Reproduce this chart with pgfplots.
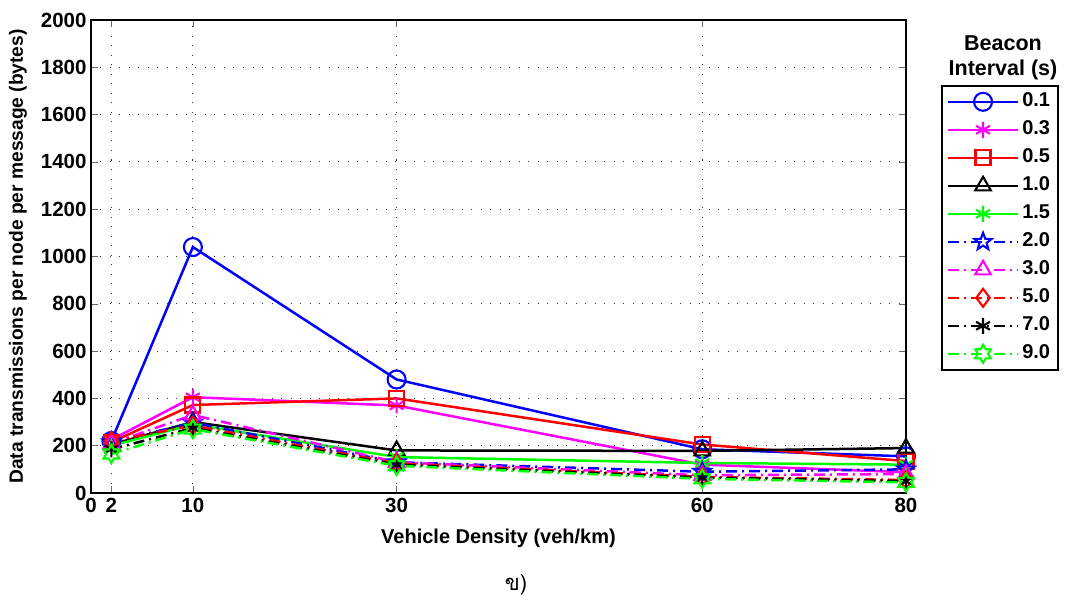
\documentclass[border=0pt]{standalone}
\usepackage{pgfplots}
\pgfplotsset{compat=1.18}
\usepackage{fontspec}
\setmainfont{Liberation Sans}
\newfontfamily\thaifont[Script=Thai]{Loma}
\usetikzlibrary{plotmarks}
\definecolor{mblue}{RGB}{0,0,255}
\definecolor{mmag}{RGB}{255,0,255}
\definecolor{mred}{RGB}{255,0,0}
\definecolor{mgreen}{RGB}{0,255,0}
\pgfdeclareplotmark{pentagram}{%
 \pgfpathmoveto{\pgfpointpolar{90}{\pgfplotmarksize}}%
 \pgfpathlineto{\pgfpointpolar{126}{0.42\pgfplotmarksize}}%
 \pgfpathlineto{\pgfpointpolar{162}{\pgfplotmarksize}}%
 \pgfpathlineto{\pgfpointpolar{198}{0.42\pgfplotmarksize}}%
 \pgfpathlineto{\pgfpointpolar{234}{\pgfplotmarksize}}%
 \pgfpathlineto{\pgfpointpolar{270}{0.42\pgfplotmarksize}}%
 \pgfpathlineto{\pgfpointpolar{306}{\pgfplotmarksize}}%
 \pgfpathlineto{\pgfpointpolar{342}{0.42\pgfplotmarksize}}%
 \pgfpathlineto{\pgfpointpolar{18}{\pgfplotmarksize}}%
 \pgfpathlineto{\pgfpointpolar{54}{0.42\pgfplotmarksize}}%
 \pgfpathclose\pgfusepathqstroke}
\pgfdeclareplotmark{hexagram}{%
 \pgfpathmoveto{\pgfpointpolar{90}{\pgfplotmarksize}}%
 \pgfpathlineto{\pgfpointpolar{120}{0.58\pgfplotmarksize}}%
 \pgfpathlineto{\pgfpointpolar{150}{\pgfplotmarksize}}%
 \pgfpathlineto{\pgfpointpolar{180}{0.58\pgfplotmarksize}}%
 \pgfpathlineto{\pgfpointpolar{210}{\pgfplotmarksize}}%
 \pgfpathlineto{\pgfpointpolar{240}{0.58\pgfplotmarksize}}%
 \pgfpathlineto{\pgfpointpolar{270}{\pgfplotmarksize}}%
 \pgfpathlineto{\pgfpointpolar{300}{0.58\pgfplotmarksize}}%
 \pgfpathlineto{\pgfpointpolar{330}{\pgfplotmarksize}}%
 \pgfpathlineto{\pgfpointpolar{0}{0.58\pgfplotmarksize}}%
 \pgfpathlineto{\pgfpointpolar{30}{\pgfplotmarksize}}%
 \pgfpathlineto{\pgfpointpolar{60}{0.58\pgfplotmarksize}}%
 \pgfpathclose\pgfusepathqstroke}
\begin{document}
\begin{tikzpicture}
\path[use as bounding box] (-91pt,-113pt) rectangle (978pt,493pt);
\begin{axis}[
  at={(0,0)}, anchor=south west,
  scale only axis, width=815pt, height=473pt,
  xmin=0, xmax=80, ymin=0, ymax=2000,
  xtick={0,2,10,30,60,80},
  ytick={0,200,...,2000},
  grid=major,
  grid style={black!80, line width=0.9pt, dash pattern=on 1pt off 8.5pt},
  tick align=inside,
  major tick length=7pt,
  tick style={black!60, line width=0.6pt},
  axis line style={black, line width=1.3pt},
  /pgf/number format/assume math mode=true,
  /pgf/number format/1000 sep={},
  ticklabel style={font=\fontsize{20.5}{22}\selectfont\bfseries},
  yticklabel style={xshift=-1pt},
  xticklabel style={yshift=-2pt},
  xlabel={Vehicle Density (veh/km)},
  ylabel={Data transmissions per node per message (bytes)},
  every axis x label/.style={at={(axis description cs:0.5,-0.0953)}, anchor=center, font=\fontsize{20}{22}\selectfont\bfseries},
  every axis y label/.style={at={(axis description cs:-0.0896,0.5)}, rotate=90, anchor=center, font=\fontsize{19.2}{22}\selectfont\bfseries},
  every axis plot/.append style={line width=2.5pt, mark size=8pt, mark options={solid, line width=2.1pt}},
  legend style={at={(axis description cs:1,1)}, anchor=north west, xshift=35pt, yshift=-65pt,
     draw=black, line width=1.6pt, font=\fontsize{20}{22}\selectfont\bfseries,
     row sep=0pt, inner xsep=5pt, inner ysep=2pt,
     nodes={text height=15pt, text depth=6pt, inner ysep=3.5pt, inner xsep=3pt}},
  legend cell align=left,
  legend image code/.code={\draw[#1, mark=none] (6pt,0pt) -- (76pt,0pt);
     \draw[#1] plot coordinates {(41pt,0pt)};},
  dashdot/.style={dash pattern=on 11pt off 5pt on 2pt off 5pt},
]
\addplot[mblue, mark=o, mark size=9pt] coordinates {(2,220)(10,1040)(30,480)(60,185)(80,155)};
\addlegendentry{0.1}
\addplot[mmag, mark=asterisk] coordinates {(2,225)(10,405)(30,370)(60,120)(80,88)};
\addlegendentry{0.3}
\addplot[mred, mark=square, mark size=7.5pt] coordinates {(2,215)(10,372)(30,400)(60,205)(80,135)};
\addlegendentry{0.5}
\addplot[black, mark=triangle, mark size=9pt] coordinates {(2,205)(10,300)(30,180)(60,178)(80,190)};
\addlegendentry{1.0}
\addplot[mgreen, mark=asterisk] coordinates {(2,200)(10,290)(30,152)(60,127)(80,120)};
\addlegendentry{1.5}
\addplot[mblue, dashdot, mark=pentagram, mark size=9pt] coordinates {(2,215)(10,297)(30,130)(60,90)(80,100)};
\addlegendentry{2.0}
\addplot[mmag, dashdot, mark=triangle, mark size=9pt] coordinates {(2,210)(10,330)(30,130)(60,75)(80,80)};
\addlegendentry{3.0}
\addplot[mred, dashdot, mark=diamond, mark size=9pt] coordinates {(2,220)(10,285)(30,125)(60,68)(80,55)};
\addlegendentry{5.0}
\addplot[black, dashdot, mark=asterisk] coordinates {(2,185)(10,275)(30,120)(60,65)(80,50)};
\addlegendentry{7.0}
\addplot[mgreen, dashdot, mark=hexagram, mark size=9pt] coordinates {(2,165)(10,270)(30,115)(60,60)(80,45)};
\addlegendentry{9.0}
\end{axis}
\node[align=center, font=\fontsize{21.5}{25}\selectfont\bfseries, anchor=south] at (912pt,410pt) {Beacon\\Interval (s)};
\node[font=\fontsize{22}{24}\selectfont\thaifont, anchor=center] at (425pt,-92pt) {ข)};
\end{tikzpicture}
\end{document}
